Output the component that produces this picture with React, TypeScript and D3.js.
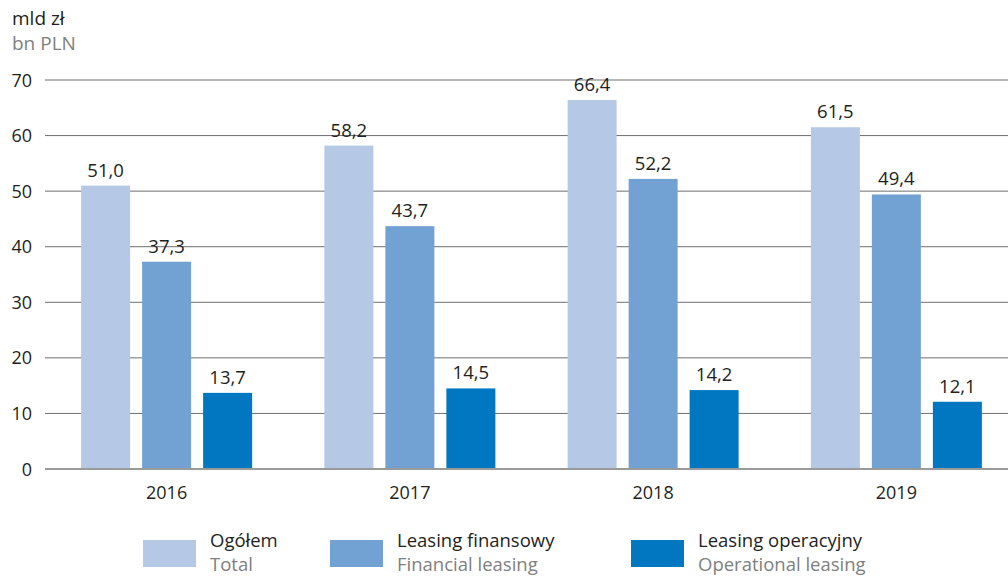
import React from "react";
import * as d3 from "d3";

const years = ["2016", "2017", "2018", "2019"];
const seriesKeys = ["total", "financial", "operational"];
const seriesNamesPl = ["Ogółem", "Leasing finansowy", "Leasing operacyjny"];
const seriesNamesEn = ["Total", "Financial leasing", "Operational leasing"];
const totalValues = [51.0, 58.2, 66.4, 61.5];
const financialValues = [37.3, 43.7, 52.2, 49.4];
const operationalValues = [13.7, 14.5, 14.2, 12.1];
const yTicks = [0, 10, 20, 30, 40, 50, 60, 70];
const colors = ["#b5c9e7", "#72a2d4", "#0077c0"];

const W = 1008;
const H = 576;
const FONT = "'Open Sans', 'Noto Sans', sans-serif";

export default function App() {
  const seriesValues = [totalValues, financialValues, operationalValues];
  const x = d3.scaleBand<string>().domain(years).range([45, 1018]).paddingInner(0).paddingOuter(0);
  const y = d3.scaleLinear().domain([0, 70]).range([469, 80]);
  const barW = 49;
  const gap = 12;
  const fmt = (v: number) => v.toFixed(1).replace(".", ",");

  const legendX = [143, 330, 631];

  return (
    <svg width={W} height={H} style={{ position: "absolute", left: 0, top: 0, background: "#fff" }} fontFamily={FONT}>
      <text x={12} y={25} fontSize={19} fill="#231f20">mld zł</text>
      <text x={12} y={50} fontSize={19} fill="#808080">bn PLN</text>
      {yTicks.map((t) => (
        <g key={t}>
          {t !== 0 && <line x1={45} x2={W} y1={y(t)} y2={y(t)} stroke="#6f6f6f" strokeWidth={1} />}
          <text x={32} y={y(t) + 6.5} textAnchor="end" fontSize={18} fill="#231f20">{t}</text>
        </g>
      ))}
      {years.map((yr, i) => {
        const cx = (x(yr) as number) + x.bandwidth() / 2;
        return (
          <g key={yr}>
            {seriesKeys.map((k, s) => {
              const v = seriesValues[s][i];
              const bx = cx + (s - 1) * (barW + gap) - barW / 2;
              return (
                <g key={k}>
                  <rect x={bx} y={y(v)} width={barW} height={y(0) - y(v)} fill={colors[s]} />
                  <text x={bx + barW / 2} y={y(v) - 9} textAnchor="middle" fontSize={18.5} fill="#231f20">{fmt(v)}</text>
                </g>
              );
            })}
            <text x={cx} y={499} textAnchor="middle" fontSize={18} fill="#231f20">{yr}</text>
          </g>
        );
      })}
      <line x1={45} x2={W} y1={y(0)} y2={y(0)} stroke="#9a9a9a" strokeWidth={2} />
      {seriesKeys.map((k, s) => (
        <g key={k}>
          <rect x={legendX[s]} y={540} width={53} height={27} fill={colors[s]} />
          <text x={legendX[s] + 67} y={547} fontSize={18.5} fill="#231f20">{seriesNamesPl[s]}</text>
          <text x={legendX[s] + 67} y={571} fontSize={18.5} fill="#808080">{seriesNamesEn[s]}</text>
        </g>
      ))}
    </svg>
  );
}
